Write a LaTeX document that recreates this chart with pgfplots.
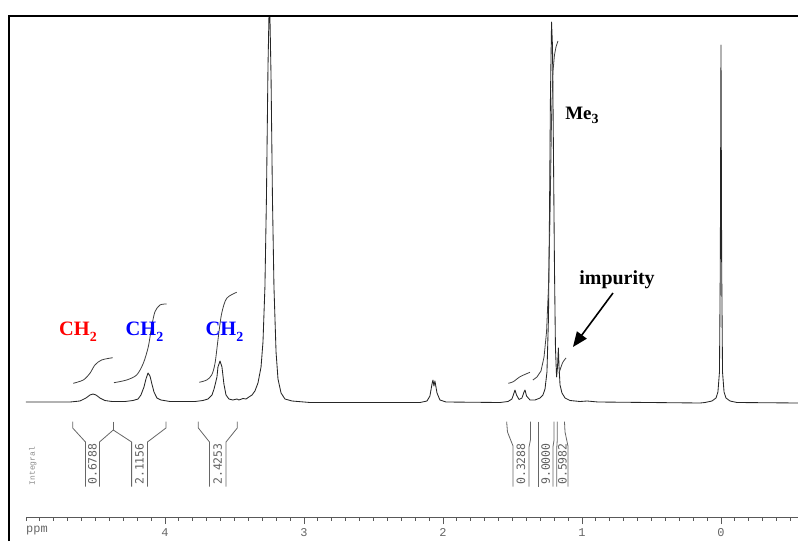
\documentclass[border=0pt]{standalone}
\usepackage{fontspec}
\setmainfont{Liberation Serif}
\newfontfamily\monof{Liberation Mono}
\newfontfamily\dmonof{DejaVu Sans Mono}
\usepackage{pgfplots}
\pgfplotsset{compat=1.18}
\usetikzlibrary{arrows.meta}
\begin{document}
\begin{tikzpicture}
\begin{axis}[
 scale only axis, width=772bp, height=501bp,
 x dir=reverse, xmin=-0.554, xmax=5.0, ymin=0, ymax=501,
 axis x line=bottom, axis y line=none,
 x axis line style={-, black!65, line width=0.8bp},
 xtick={0,1,2,3,4}, xticklabels={0,1,2,3,4},
 minor xtick={-0.5,-0.4,-0.3,-0.2,-0.1,0.1,0.2,0.3,0.4,0.5,0.6,0.7,0.8,0.9,1.1,1.2,1.3,1.4,1.5,1.6,1.7,1.8,1.9,2.1,2.2,2.3,2.4,2.5,2.6,2.7,2.8,2.9,3.1,3.2,3.3,3.4,3.5,3.6,3.7,3.8,3.9,4.1,4.2,4.3,4.4,4.5,4.6,4.7,4.8,4.9,5.0},
 tick align=outside, major tick length=7bp, minor tick length=3.5bp,
 tick style={black!65, line width=0.8bp},
 xticklabel style={font=\monof\fontsize{12}{12}\selectfont, text=black!60, yshift=-1bp},
 clip=false,
]
% spectrum
\addplot[black!85, line width=0.85bp, line join=round] coordinates {
(5.0,115) (4.683,115) (4.612,116) (4.568,119) (4.540,122) (4.518,123) (4.496,122) (4.468,119) (4.432,116.5) (4.381,115.5)
(4.288,115.5) (4.230,116.5) (4.194,118) (4.173,122) (4.151,130) (4.137,138) (4.122,144) (4.108,141) (4.094,133) (4.079,125)
(4.058,119) (4.029,117) (3.964,115.5) (3.784,115.5) (3.727,116.5) (3.691,118) (3.662,122) (3.647,128) (3.633,136) (3.626,140) (3.619,150)
(3.604,156) (3.590,150) (3.576,133) (3.561,122) (3.540,118) (3.511,117) (3.482,118) (3.468,117) (3.439,118.5) (3.417,118)
(3.396,120) (3.374,122) (3.353,126) (3.331,134) (3.309,150) (3.295,175) (3.281,230) (3.270,320) (3.259,450) (3.252,501)
(3.245,501) (3.237,440) (3.227,320) (3.216,230) (3.201,165) (3.187,138) (3.165,124) (3.137,118) (3.086,116) (2.957,114.5)
(2.165,114.5) (2.115,116) (2.094,121) (2.079,133) (2.072,137) (2.065,131) (2.058,136) (2.043,124) (2.022,117) (1.978,115)
(1.590,114.5) (1.532,115.5) (1.504,118) (1.489,124) (1.482,127) (1.471,122) (1.453,117.5) (1.432,119) (1.417,125) (1.410,127)
(1.399,121) (1.374,117) (1.338,117) (1.302,119) (1.281,122) (1.266,128) (1.252,145) (1.241,200) (1.234,300) (1.227,420)
(1.219,495) (1.212,470) (1.205,360) (1.198,250) (1.191,170) (1.183,140) (1.176,150) (1.170,169) (1.165,150) (1.158,132)
(1.144,124) (1.122,119) (1.086,116.5) (1.014,115.5) (0.964,116) (0.885,115) (0.151,114) (0.115,114.5) (0.065,116) (0.036,119)
(0.022,125) (0.011,145) (0.005,250) (0.000,472) (-0.005,250) (-0.011,145) (-0.022,125) (-0.036,119) (-0.065,116) (-0.115,114.5)
(-0.554,114)
};
% integral curves
\addplot[black!75, line width=0.8bp, smooth] coordinates {(4.660,133.7) (4.588,137) (4.540,143.7) (4.504,152) (4.456,157) (4.376,159.3)};
\addplot[black!75, line width=0.8bp, smooth] coordinates {(4.367,134.3) (4.276,137) (4.204,142) (4.156,153.7) (4.120,170.3) (4.096,190.3) (4.072,205.3) (4.036,212) (3.988,213)};
\addplot[black!75, line width=0.8bp, smooth] coordinates {(3.753,134.7) (3.700,137) (3.664,142) (3.640,153.7) (3.616,180.3) (3.592,203.7) (3.556,218.7) (3.484,224.7)};
\addplot[black!75, line width=0.8bp, smooth] coordinates {(1.530,133.7) (1.494,135.3) (1.446,140.3) (1.374,144.7)};
\addplot[black!75, line width=0.8bp] coordinates {(1.353,137) (1.324,140) (1.295,146) (1.273,160) (1.255,185) (1.241,230) (1.230,300) (1.219,400) (1.209,445) (1.198,462) (1.187,470) (1.173,476)};
\addplot[black!75, line width=0.8bp, smooth] coordinates {(1.165,144) (1.151,150) (1.137,155) (1.115,159)};
% integral brackets
\addplot[black!60, line width=0.8bp] coordinates {(4.664,95.3) (4.664,89) (4.572,75) (4.572,30.3)};
\addplot[black!60, line width=0.8bp] coordinates {(4.471,30.3) (4.471,75) (4.372,87) (4.240,75) (4.240,30.3)};
\addplot[black!60, line width=0.8bp] coordinates {(4.372,95.3) (4.372,87)};
\addplot[black!60, line width=0.8bp] coordinates {(4.126,30.3) (4.126,75) (3.993,89) (3.993,95.3)};
\addplot[black!60, line width=0.8bp] coordinates {(3.760,95.3) (3.760,89) (3.680,75) (3.680,30.3)};
\addplot[black!60, line width=0.8bp] coordinates {(3.561,30.3) (3.561,75) (3.480,89) (3.480,95.3)};
\addplot[black!60, line width=0.8bp] coordinates {(1.542,95.3) (1.536,85) (1.496,71) (1.496,30.3)};
\addplot[black!60, line width=0.8bp] coordinates {(1.371,95.3) (1.371,77) (1.381,70) (1.381,30.3)};
\addplot[black!60, line width=0.8bp] coordinates {(1.314,95.3) (1.314,30.3)};
\addplot[black!60, line width=0.8bp] coordinates {(1.201,95.3) (1.201,77) (1.209,70) (1.209,30.3)};
\addplot[black!60, line width=0.8bp] coordinates {(1.178,95.3) (1.178,77) (1.181,70) (1.181,30.3)};
\addplot[black!60, line width=0.8bp] coordinates {(1.126,95.3) (1.122,85) (1.101,71) (1.101,30.3)};
% integral values
\tikzset{intlab/.style={rotate=90, font=\dmonof\fontsize{11.5}{11.5}\selectfont, text=black!62, inner sep=0pt}}
\node[intlab] at (axis cs:4.522,53) {0.6788};
\node[intlab] at (axis cs:4.183,53) {2.1156};
\node[intlab] at (axis cs:3.621,53) {2.4253};
\node[intlab] at (axis cs:1.439,53) {0.3288};
\node[intlab] at (axis cs:1.261,53) {9.0000};
\node[intlab] at (axis cs:1.141,53) {0.5982};
\node[rotate=90, font=\monof\fontsize{8}{8}\selectfont, text=black!45, inner sep=0pt] at (axis cs:4.950,51) {Integral};
\node[anchor=west, font=\monof\fontsize{12}{12}\selectfont, text=black!60, inner sep=0pt] at (axis cs:5.0,-14) {ppm};
% annotations
\node[font=\bfseries\fontsize{20.5}{24}\selectfont, text=red, inner sep=0pt] at (axis cs:4.626,185) {CH\raisebox{-0.28em}{\fontsize{14}{14}\selectfont 2}};
\node[font=\bfseries\fontsize{20.5}{24}\selectfont, text=blue, inner sep=0pt] at (axis cs:4.147,185) {CH\raisebox{-0.28em}{\fontsize{14}{14}\selectfont 2}};
\node[font=\bfseries\fontsize{20.5}{24}\selectfont, text=blue, inner sep=0pt] at (axis cs:3.572,185) {CH\raisebox{-0.28em}{\fontsize{14}{14}\selectfont 2}};
\node[font=\bfseries\fontsize{19}{24}\selectfont, inner sep=0pt] at (axis cs:1.0,402) {Me\raisebox{-0.2em}{\fontsize{14}{14}\selectfont 3}};
\node[font=\bfseries\fontsize{20}{24}\selectfont, inner sep=0pt] at (axis cs:0.748,237) {impurity};
\draw[line width=1.6bp, -{Triangle[length=15bp,width=12bp]}] (axis cs:0.777,224) -- (axis cs:1.065,170);
% frame
\draw[line width=2.2bp] (axis cs:5.122,-24) -- (axis cs:5.122,501) -- (axis cs:-0.554,501);
\coordinate (BL) at (axis cs:5.187,-24);
\coordinate (TR) at (axis cs:-0.554,517);
\end{axis}
\pgfresetboundingbox
\path (BL) rectangle (TR);
\end{tikzpicture}
\end{document}
